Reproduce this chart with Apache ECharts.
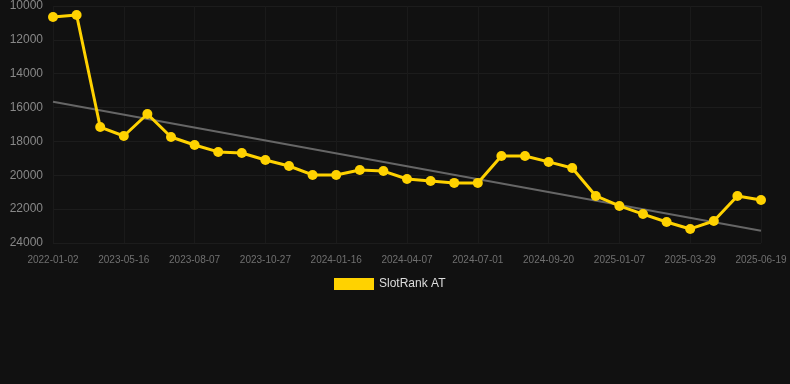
<!DOCTYPE html>
<html><head><meta charset="utf-8">
<script src="https://cdn.jsdelivr.net/npm/echarts@6/dist/echarts.min.js"></script>
<style>html,body{margin:0;padding:0;background:#111111;}#c{width:790px;height:384px;}</style>
</head><body><div id="c"></div>
<script>
const categories = ["2022-01-02","2022-12-01","2023-02-01","2023-05-16","2023-06-15","2023-07-10","2023-08-07","2023-09-01","2023-10-01","2023-10-27","2023-11-20","2023-12-20","2024-01-16","2024-02-10","2024-03-10","2024-04-07","2024-05-01","2024-06-01","2024-07-01","2024-07-25","2024-08-20","2024-09-20","2024-10-20","2024-11-20","2025-01-07","2025-02-01","2025-03-01","2025-03-29","2025-04-25","2025-05-20","2025-06-19"];
const slotRankValues = [10650,10530,17150,17680,16380,17740,18210,18620,18680,19100,19450,19980,19980,19690,19750,20220,20340,20450,20450,18860,18860,19210,19570,21220,21810,22290,22760,23170,22700,21220,21460];
const trendValues = [15650,null,null,null,null,null,null,null,null,null,null,null,null,null,null,null,null,null,null,null,null,null,null,null,null,null,null,null,null,null,23270];
const yTicks = {min:10000, max:24000, interval:2000};

const chart = echarts.init(document.getElementById('c'));
chart.setOption({
  backgroundColor:'#111111',
  animation:false,
  grid:{left:53,right:29,top:6,bottom:141},
  legend:{
    data:[{name:'SlotRank AT',icon:'rect'}],
    top:273, left:329,
    itemWidth:40,itemHeight:12,itemGap:6,
    textStyle:{color:'#dddddd',fontSize:12,fontFamily:'Liberation Sans, Arial, sans-serif'}
  },
  xAxis:{
    type:'category',boundaryGap:false,data:categories,
    axisLine:{show:false},
    axisTick:{show:false},
    axisLabel:{color:'#707070',fontSize:10,interval:2,margin:12,fontFamily:'Liberation Sans, Arial, sans-serif'},
    splitLine:{show:true,interval:2,lineStyle:{color:'#1a1a1a',width:1}}
  },
  yAxis:{
    type:'value',inverse:true,min:yTicks.min,max:yTicks.max,interval:yTicks.interval,
    axisLine:{show:false},axisTick:{show:false},
    axisLabel:{color:'#888888',fontSize:12,margin:10,formatter:function(v){return String(v);},fontFamily:'Liberation Sans, Arial, sans-serif'},
    splitLine:{lineStyle:{color:'#1c1c1c',width:1}}
  },
  series:[
    {name:'Trend',type:'line',data:trendValues,connectNulls:true,symbol:'none',
     lineStyle:{color:'#666666',width:2},z:1,silent:true},
    {name:'SlotRank AT',type:'line',data:slotRankValues,symbol:'circle',symbolSize:10,
     itemStyle:{color:'#FFD200'},lineStyle:{color:'#FFD200',width:3},z:2}
  ]
});
</script></body></html>
